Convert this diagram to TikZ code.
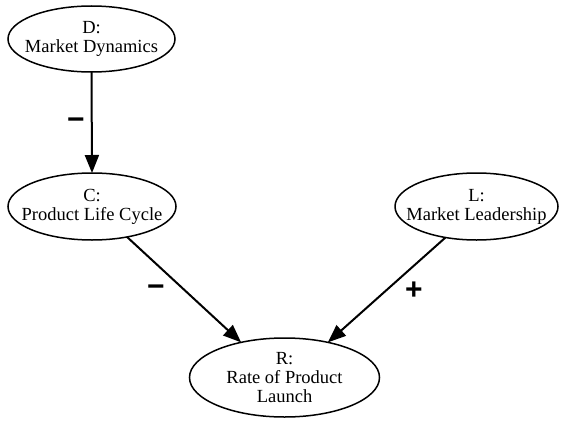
\documentclass[tikz,border=0pt]{standalone}
\usepackage{fontspec}
\setmainfont{Liberation Serif}
\newfontfamily\signfont{Liberation Sans}
\usetikzlibrary{shapes.geometric,arrows.meta}
\begin{document}
\begin{tikzpicture}[x=1pt,y=-1pt,
  var/.style={ellipse,draw,line width=1.5pt,inner sep=0pt,outer sep=0pt},
  txt/.style={align=center,inner sep=0pt,font=\fontsize{18.5}{19}\selectfont},
  link/.style={line width=2pt,-{Triangle[length=18pt,width=14pt]}},
  sign/.style={font=\signfont\bfseries\fontsize{30}{30}\selectfont,inner sep=0pt}]
\useasboundingbox (0,0) rectangle (561,420);
% variables: fixed-size ellipses, captions centred inside
\node[var,minimum width=167pt,minimum height=66pt,
  label={[txt]center:D:\\Market Dynamics}] (D) at (91.5,39) {};
\node[var,minimum width=168pt,minimum height=67pt,
  label={[txt]center:C:\\Product Life Cycle}] (C) at (92,206.5) {};
\node[var,minimum width=163pt,minimum height=67pt,
  label={[txt]center:L:\\Market Leadership}] (L) at (476.5,206.5) {};
\node[var,minimum width=190pt,minimum height=79pt,
  label={[txt]center:R:\\Rate of Product\\Launch}] (R) at (284.5,377.5) {};
% influences
\draw[link] (D.south) -- (C.north);
\draw[link] (C.-41) -- (R.141);
\draw[link] (L.-135) -- (R.39);
% signs
\node[sign] (s1) at (76,124) {−};
\node[sign] (s2) at (156,291) {−};
\node[sign] (s3) at (414,291) {+};
\end{tikzpicture}
\end{document}
